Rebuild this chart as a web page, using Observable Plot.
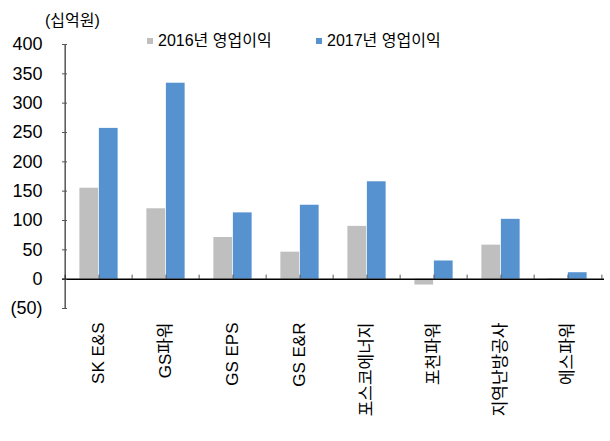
<!DOCTYPE html>
<html>
<head>
<meta charset="utf-8">
<script src="https://cdn.jsdelivr.net/npm/d3@7"></script>
<script src="https://cdn.jsdelivr.net/npm/@observablehq/plot@0.6"></script>
<style>
  body { margin: 0; background: #fff; }
  #wrap { position: relative; width: 610px; height: 441px; font-family: "Liberation Sans", "Noto Sans CJK KR", sans-serif; color: #000; }
  #wrap svg { position: absolute; left: 0; top: 0; }
  .unit { position: absolute; left: 45px; top: 10px; font-size: 16px; line-height: 22px; }
  .leg { position: absolute; top: 30px; font-size: 16px; line-height: 22px; display: flex; align-items: center; }
  .sw { width: 6px; height: 6px; margin-right: 5px; }
</style>
</head>
<body>
<div id="wrap"></div>
<script>
const categories = ["SK E&S", "GS파워", "GS EPS", "GS E&R", "포스코에너지", "포천파워", "지역난방공사", "에스파워"];
const profit2016 = [155, 120, 71, 46, 90, -10, 58, 1];
const profit2017 = [257, 334, 113, 126, 166, 31, 102, 11];
const seriesNames = ["2016년 영업이익", "2017년 영업이익"];
const yTicks = [-50, 0, 50, 100, 150, 200, 250, 300, 350, 400];
const unitLabel = "(십억원)";

const colors = ["#BFBFBF", "#5592CF"];
const W = 610, H = 441, mL = 62, mR = 6, mT = 44, mB = 133;
const step = (W - mL - mR) / categories.length;
const half = step / 2;
const barW = 19.5;

const d2016 = categories.map((c, i) => ({cat: c, v: profit2016[i]}));
const d2017 = categories.map((c, i) => ({cat: c, v: profit2017[i]}));

const chart = Plot.plot({
  width: W, height: H,
  marginLeft: mL, marginRight: mR, marginTop: mT, marginBottom: mB,
  style: {fontFamily: '"Liberation Sans", "Noto Sans CJK KR", sans-serif', color: "#000", background: "transparent", overflow: "visible"},
  x: {domain: categories, padding: 0},
  y: {domain: [yTicks[0], yTicks[yTicks.length - 1]]},
  marks: [
    Plot.barY(d2016, {x: "cat", y: "v", fill: colors[0], insetLeft: half - barW, insetRight: half}),
    Plot.barY(d2017, {x: "cat", y: "v", fill: colors[1], insetLeft: half, insetRight: half - barW}),
    Plot.ruleX(categories, {x: d => d, y1: 0, y2: 0, insetTop: -4, stroke: "#555"}),
    Plot.ruleX(categories, {x: d => d, dx: -half, y1: 0, y2: 0, insetTop: -4, stroke: "#555"}),
    Plot.ruleX([categories[categories.length - 1]], {x: d => d, dx: half, y1: 0, y2: 0, insetTop: -4, stroke: "#555"}),
    Plot.ruleY([0], {stroke: "#000", strokeWidth: 1.5}),
    Plot.ruleX([categories[0]], {x: d => d, dx: -half, y1: yTicks[0], y2: yTicks[yTicks.length - 1], stroke: "#000"}),
    Plot.axisY({ticks: yTicks, tickSize: -5, tickPadding: 25, fontSize: 18, stroke: "#555", label: null,
      tickFormat: d => d < 0 ? `(${-d})` : `${d}`}),
    Plot.axisX({tickSize: 0, tickRotate: -90, tickPadding: 14, fontSize: 17, label: null})
  ]
});

const wrap = document.getElementById("wrap");
wrap.appendChild(chart);

const unit = document.createElement("div");
unit.className = "unit";
unit.textContent = unitLabel;
wrap.appendChild(unit);

const legLeft = [147, 316];
seriesNames.forEach((name, i) => {
  const item = document.createElement("div");
  item.className = "leg";
  item.style.left = legLeft[i] + "px";
  const sw = document.createElement("span");
  sw.className = "sw";
  sw.style.background = colors[i];
  const t = document.createElement("span");
  t.textContent = name;
  item.appendChild(sw);
  item.appendChild(t);
  wrap.appendChild(item);
});
</script>
</body>
</html>
